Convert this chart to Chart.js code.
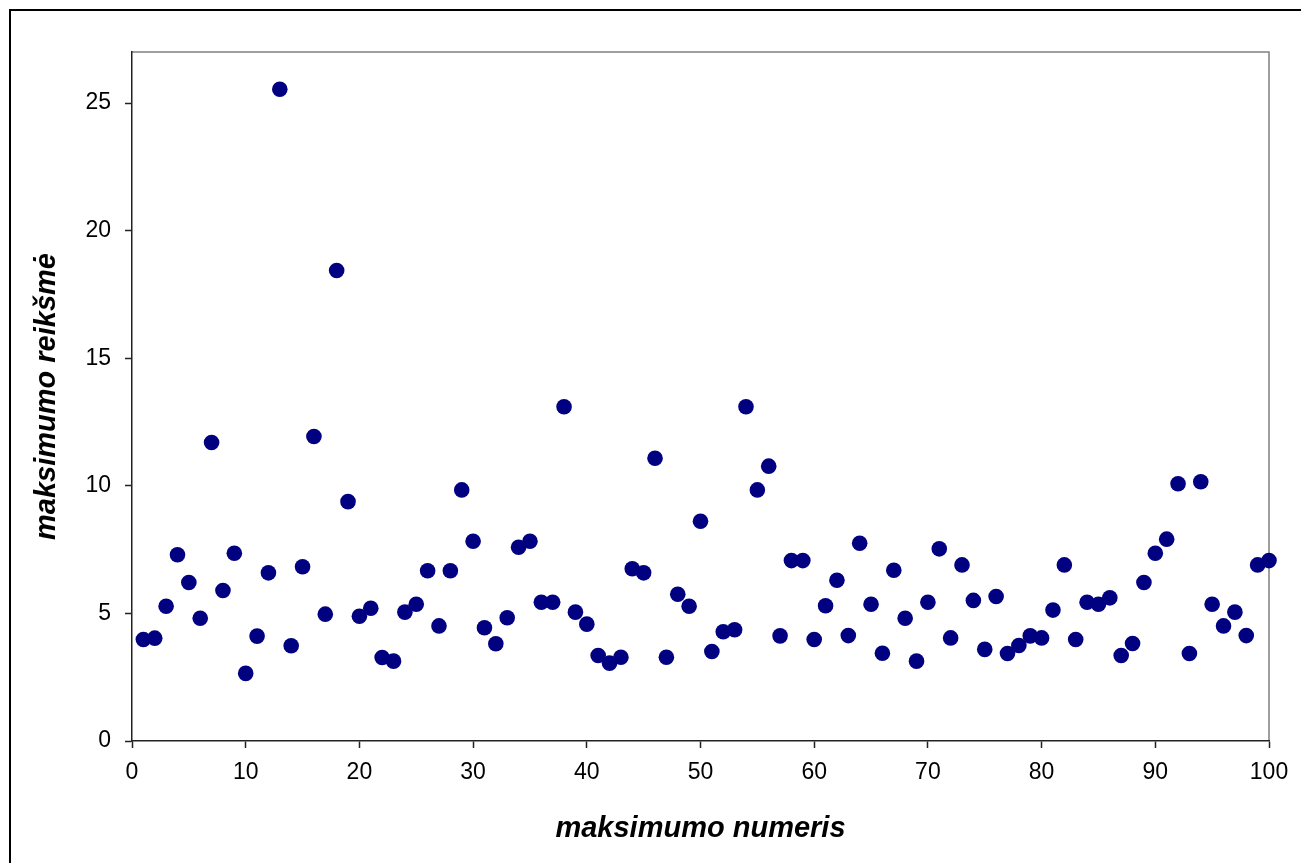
<!DOCTYPE html>
<html>
<head>
<meta charset="utf-8">
<title>maksimumo reikšmės</title>
<script src="https://cdn.jsdelivr.net/npm/chart.js@4.4.1/dist/chart.umd.min.js"></script>
<style>
  html, body { margin: 0; padding: 0; background: #fff; }
  #chart { display: block; }
</style>
</head>
<body>
<canvas id="chart" width="1301" height="863"></canvas>
<script>
// maximum number (1..100) and its value
const peakIndex = Array.from({ length: 100 }, (_, i) => i + 1);
const peakValues = [
  3.98, 4.03, 5.28, 7.30, 6.21, 4.81, 11.70, 5.90, 7.36, 2.65,
  4.11, 6.59, 25.54, 3.73, 6.83, 11.93, 4.97, 18.44, 9.38, 4.89,
  5.20, 3.27, 3.13, 5.05, 5.36, 6.67, 4.51, 6.67, 9.84, 7.83,
  4.44, 3.81, 4.83, 7.59, 7.83, 5.44, 5.44, 13.10, 5.05, 4.58,
  3.35, 3.05, 3.28, 6.75, 6.59, 11.08, 3.28, 5.75, 5.28, 8.61,
  3.51, 4.28, 4.36, 13.10, 9.84, 10.77, 4.12, 7.07, 7.07, 3.98,
  5.30, 6.30, 4.13, 7.75, 5.36, 3.44, 6.69, 4.81, 3.13, 5.44,
  7.53, 4.04, 6.90, 5.51, 3.59, 5.66, 3.43, 3.74, 4.12, 4.04,
  5.13, 6.90, 3.98, 5.44, 5.36, 5.61, 3.35, 3.82, 6.21, 7.36,
  7.91, 10.08, 3.43, 10.16, 5.36, 4.51, 5.05, 4.13, 6.90, 7.07
];
const xTicks = [0, 10, 20, 30, 40, 50, 60, 70, 80, 90, 100];
const yTicks = [0, 5, 10, 15, 20, 25];

const FONT = '"Liberation Sans", Arial, sans-serif';

// outer chart frame plus the grey top/right edges of the plot area
const frame = {
  id: 'frame',
  beforeDraw(chart) {
    const { ctx, chartArea: a } = chart;
    ctx.save();
    ctx.strokeStyle = '#000';
    ctx.lineWidth = 2;
    ctx.strokeRect(10, 10, 1400, 1000);
    ctx.strokeStyle = '#808080';
    ctx.lineWidth = 1.5;
    ctx.beginPath();
    ctx.moveTo(a.left, a.top);
    ctx.lineTo(a.right, a.top);
    ctx.lineTo(a.right, a.bottom);
    ctx.stroke();
    ctx.restore();
  }
};

new Chart(document.getElementById('chart'), {
  type: 'scatter',
  data: {
    datasets: [{
      data: peakIndex.map((x, i) => ({ x, y: peakValues[i] })),
      backgroundColor: '#000080',
      borderWidth: 0,
      pointRadius: 7.8,
      pointHoverRadius: 7.8,
      clip: false,
    }]
  },
  options: {
    responsive: false,
    animation: false,
    events: [],
    layout: { padding: { left: 0, top: 52, right: 32, bottom: 0 } },
    plugins: { legend: { display: false }, tooltip: { enabled: false } },
    scales: {
      x: {
        type: 'linear',
        min: 0,
        max: 100,
        afterFit: s => { s.height = 122; },
        afterBuildTicks: s => { s.ticks = xTicks.map(v => ({ value: v })); },
        border: { color: '#222', width: 1.5 },
        grid: { drawOnChartArea: false, tickLength: 7, tickColor: '#222', tickWidth: 1.5 },
        ticks: { color: '#000', padding: 11, font: { family: FONT, size: 23 } },
        title: {
          display: true,
          text: 'maksimumo numeris',
          color: '#000',
          padding: { top: 0, bottom: 20 },
          font: { family: FONT, size: 29, weight: 'bold', style: 'italic', lineHeight: 1 }
        }
      },
      y: {
        type: 'linear',
        min: 0,
        max: 27,
        afterFit: s => { s.width = 132; },
        afterBuildTicks: s => { s.ticks = yTicks.map(v => ({ value: v })); },
        border: { color: '#222', width: 1.5 },
        grid: { drawOnChartArea: false, tickLength: 7, tickColor: '#222', tickWidth: 1.5 },
        ticks: { color: '#000', padding: 14, font: { family: FONT, size: 23 } },
        title: {
          display: true,
          text: 'maksimumo reikšmė',
          color: '#000',
          padding: { top: 32, bottom: 0 },
          font: { family: FONT, size: 29, weight: 'bold', style: 'italic', lineHeight: 1 }
        }
      }
    }
  },
  plugins: [frame]
});
</script>
</body>
</html>
